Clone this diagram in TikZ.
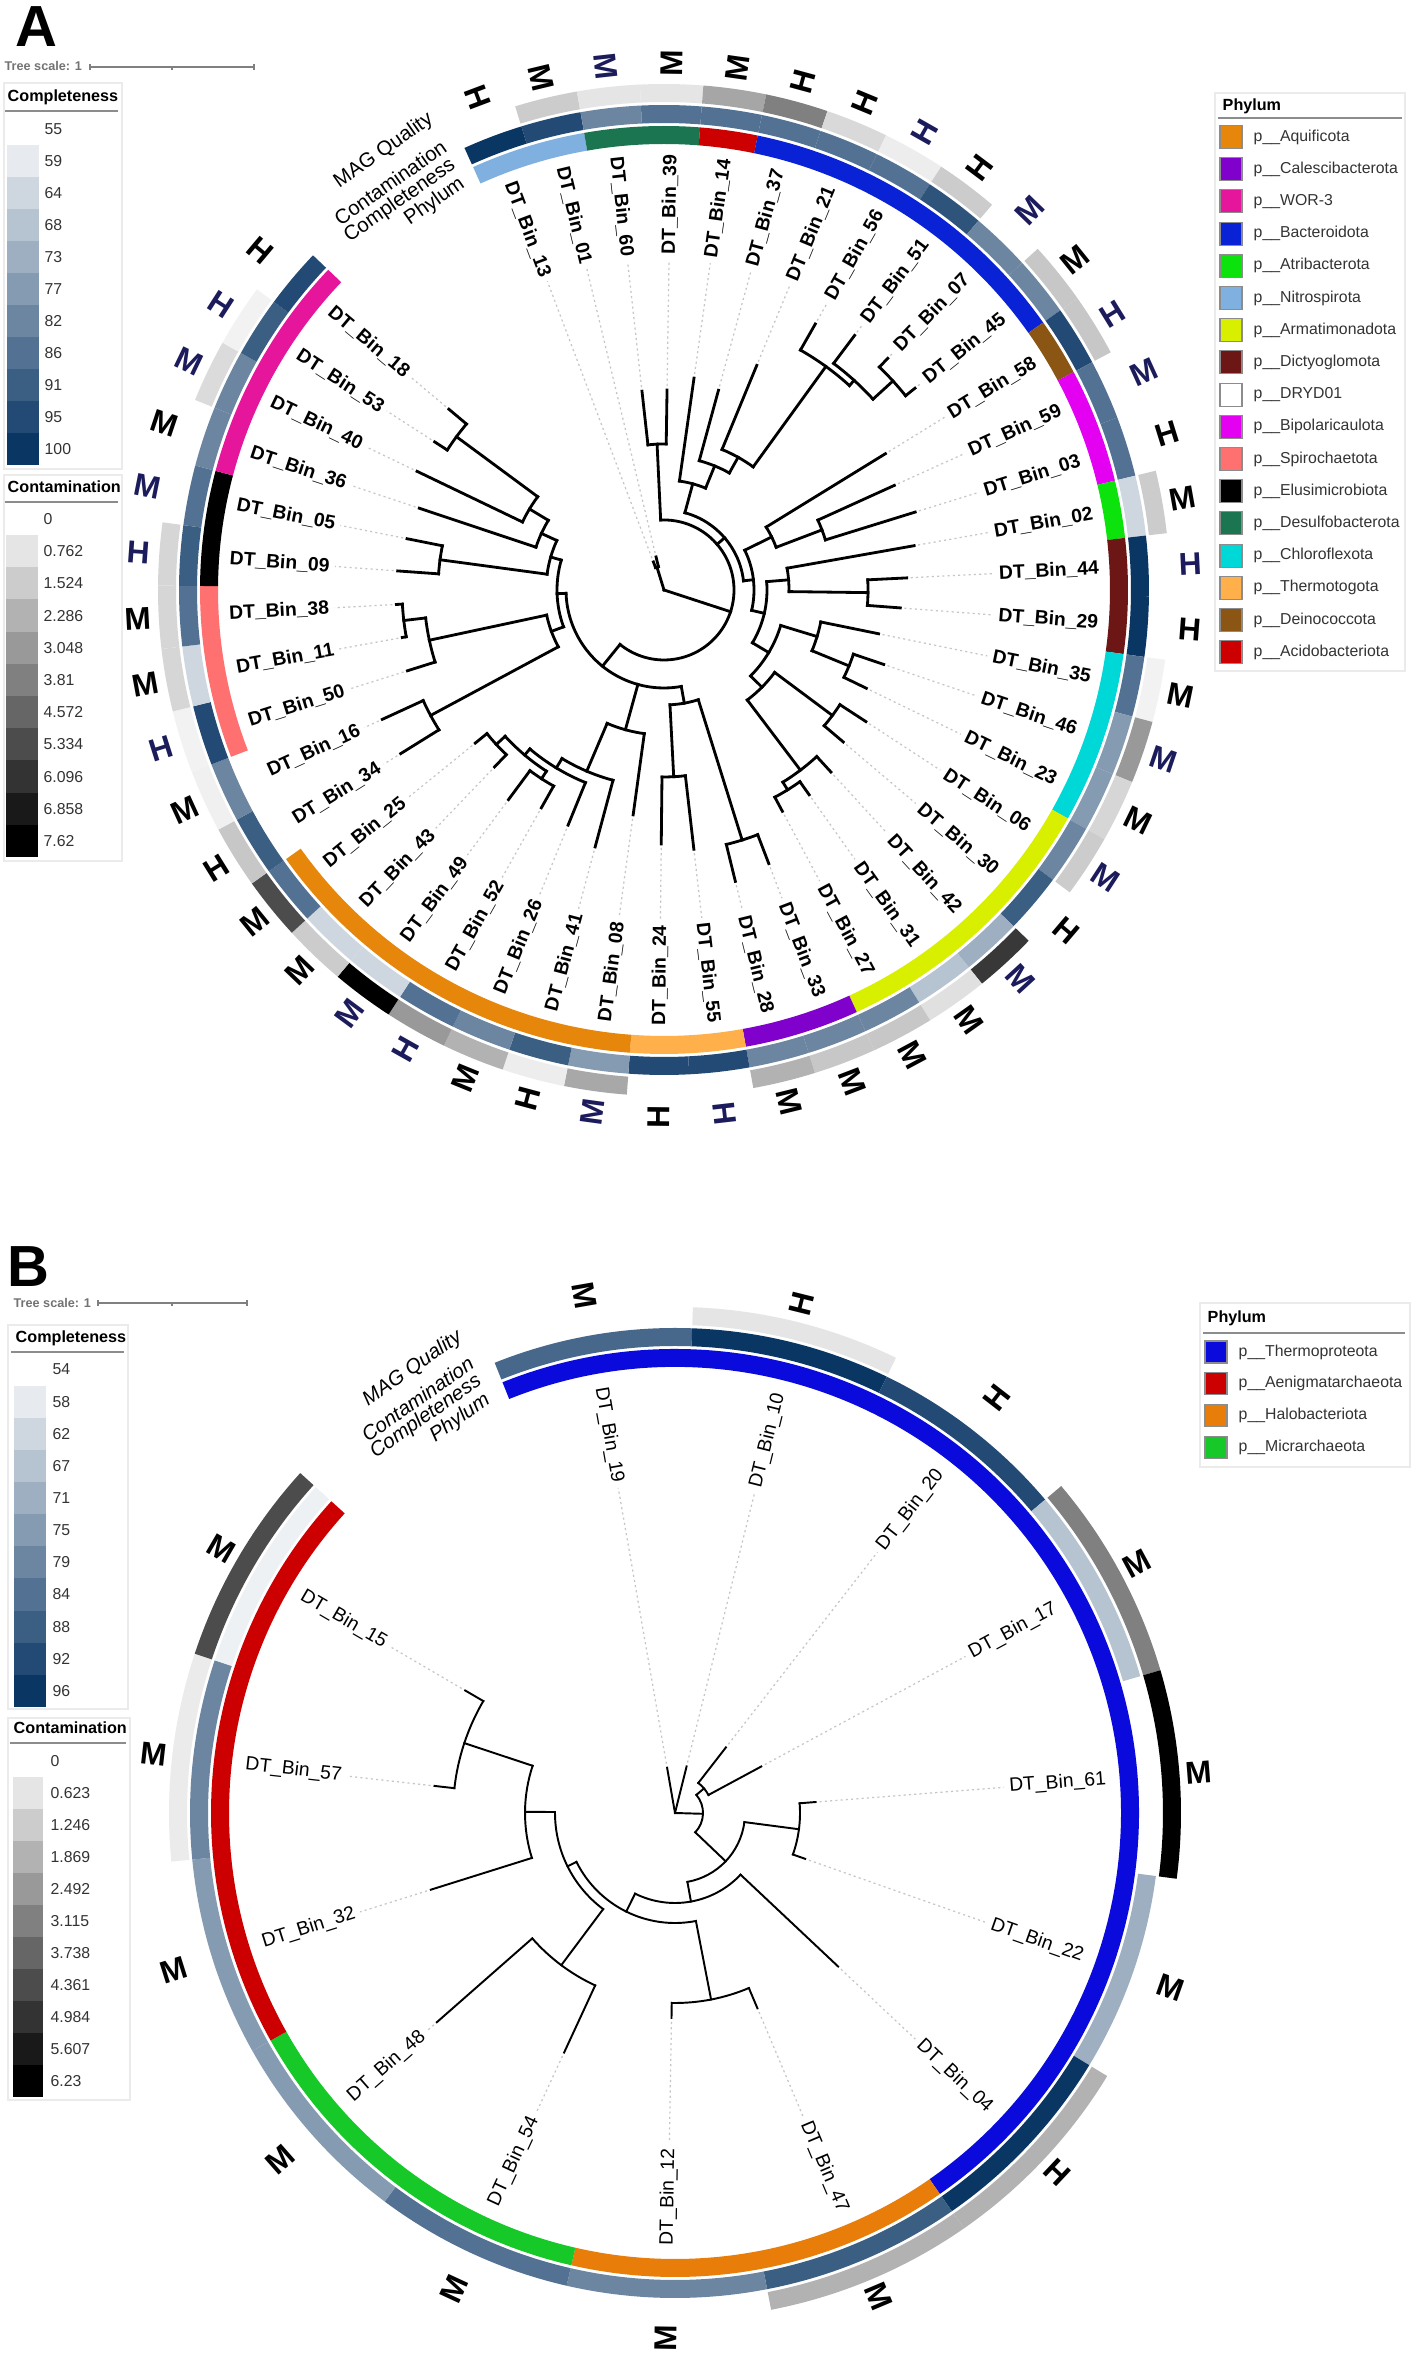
\documentclass[tikz,border=0pt]{standalone}
\usepackage{fontspec}
\setmainfont{Liberation Sans}
\usetikzlibrary{calc}

% ring and legend colours
\definecolor{cplnavy}{RGB}{10,54,100}
\definecolor{qnavy}{RGB}{28,28,92}
\definecolor{legtext}{RGB}{51,51,51}
\definecolor{aquif}{RGB}{230,134,10}
\definecolor{calesci}{RGB}{128,0,204}
\definecolor{wor}{RGB}{229,22,155}
\definecolor{bactero}{RGB}{10,34,214}
\definecolor{atrib}{RGB}{12,226,12}
\definecolor{nitro}{RGB}{128,176,224}
\definecolor{armat}{RGB}{216,240,0}
\definecolor{dictyo}{RGB}{108,22,22}
\definecolor{bipolar}{RGB}{228,0,240}
\definecolor{spiro}{RGB}{255,112,112}
\definecolor{elusi}{RGB}{0,0,0}
\definecolor{desulfo}{RGB}{26,117,80}
\definecolor{chloro}{RGB}{0,216,216}
\definecolor{thermot}{RGB}{255,176,74}
\definecolor{deino}{RGB}{139,86,20}
\definecolor{acido}{RGB}{204,0,0}
\definecolor{thermop}{RGB}{10,10,220}
\definecolor{aenig}{RGB}{204,0,0}
\definecolor{halo}{RGB}{232,125,10}
\definecolor{micr}{RGB}{22,200,40}

% leaf angle = \aA - \aS * index  (set per panel)
\newcommand\ringrun[5]{%
  \pgfmathsetmacro\rgA{\aA-\aS*(#1)+\aS/2}%
  \pgfmathsetmacro\rgB{\aA-\aS*(#2)-\aS/2}%
  \fill[#5] (\rgA:#3) arc[start angle=\rgA, end angle=\rgB, radius=#3]
    -- (\rgB:#4) arc[start angle=\rgB, end angle=\rgA, radius=#4] -- cycle;}
\newcommand\cladearc[3]{%
  \pgfmathsetmacro\rgA{\aA-\aS*(#2)}%
  \pgfmathsetmacro\rgB{\aA-\aS*(#3)}%
  \draw[branch] (\rgA:#1) arc[start angle=\rgA, end angle=\rgB, radius=#1];}
\newcommand\radial[3]{%
  \pgfmathsetmacro\rgA{\aA-\aS*(#1)}%
  \draw[branch] (\rgA:#2) -- (\rgA:#3);}

\begin{document}
\begin{tikzpicture}[x=0.1mm, y=0.1mm,
    branch/.style={line width=0.8pt, line cap=rect},
    leafdot/.style={gray!45, line width=0.35pt, dash pattern=on 0.6pt off 0.9pt},
    leaflab/.style={font=\fontsize{5.5}{6}\selectfont\bfseries, inner sep=0.5pt},
    leaflabB/.style={font=\fontsize{5.5}{6}\selectfont, inner sep=0.5pt},
    qual/.style={font=\fontsize{9}{9}\selectfont\bfseries, inner sep=0pt},
    hdr/.style={font=\fontsize{5.8}{6}\selectfont, inner sep=0.5pt, anchor=east, rotate=35},
    hdrB/.style={hdr, font=\fontsize{5.8}{6}\selectfont\itshape},
    legtitle/.style={font=\fontsize{4.6}{5}\selectfont\bfseries, anchor=west, inner sep=0pt},
    legtxt/.style={font=\fontsize{4.5}{5}\selectfont, text=legtext, anchor=west, inner sep=0pt},
    legbox/.style={draw=black!8, line width=0.4pt},
    legrule/.style={draw=black!45, line width=0.6pt},
    swatch/.style={draw=black!45, line width=0.3pt},
    scalebar/.style={draw=black!50, line width=0.45pt},
    scaletxt/.style={font=\fontsize{3.6}{4}\selectfont\bfseries, text=black!55, anchor=west, inner sep=0pt},
    panel/.style={font=\fontsize{16.5}{17}\selectfont\bfseries, inner sep=0pt}]

\fill[white] (0,0) rectangle (1417,2356);
\useasboundingbox (0,0) rectangle (1417,2356);

%%%%%%%%%%%%%%%%%%%%%%%% panel A
\node[panel] (panA) at (36,2329) {A};
\node[scaletxt] (scA) at (4,2290) {Tree scale: 1};
\draw[scalebar] (90,2289) -- (254,2289);
\draw[scalebar] (90,2286) -- (90,2292) (254,2286) -- (254,2292) (172,2289) -- (172,2286);

% completeness legend
\draw[legbox] (4,1887) rectangle (122,2273);
\node[legtitle] (cplA) at (7,2259) {Completeness};
\draw[legrule] (5,2245) -- (118,2245);
\foreach \k/\v in {0/55,1/59,2/64,3/68,4/73,5/77,6/82,7/86,8/91,9/95,10/100}{
  \pgfmathsetmacro\yy{2227-32*\k}
  \ifnum\k>0 \fill[cplnavy!\k0!white] (7,\yy-16) rectangle (39,\yy+16);\fi
  \node[legtxt] (cplA\k) at (44,\yy) {\v};
}
% contamination legend
\draw[legbox] (4,1495) rectangle (122,1881);
\node[legtitle] (conA) at (7,1869) {Contamination};
\draw[legrule] (5,1854) -- (118,1854);
\foreach \k/\v in {0/0,1/0.762,2/1.524,3/2.286,4/3.048,5/3.81,6/4.572,7/5.334,8/6.096,9/6.858,10/7.62}{
  \pgfmathsetmacro\yy{1837-32.2*\k}
  \ifnum\k>0 \fill[black!\k0] (6,\yy-16.1) rectangle (38,\yy+16.1);\fi
  \node[legtxt] (conA\k) at (43,\yy) {\v};
}
% phylum legend
\draw[legbox] (1215,1685) rectangle (1405,2263);
\node[legtitle] (phyA) at (1222,2250) {Phylum};
\draw[legrule] (1218,2238) -- (1402,2238);
\foreach \k/\pc/\pn in {0/aquif/Aquificota, 1/calesci/Calescibacterota, 2/wor/WOR-3,
    3/bactero/Bacteroidota, 4/atrib/Atribacterota, 5/nitro/Nitrospirota,
    6/armat/Armatimonadota, 7/dictyo/Dictyoglomota, 8/white/DRYD01,
    9/bipolar/Bipolaricaulota, 10/spiro/Spirochaetota, 11/elusi/Elusimicrobiota,
    12/desulfo/Desulfobacterota, 13/chloro/Chloroflexota, 14/thermot/Thermotogota,
    15/deino/Deinococcota, 16/acido/Acidobacteriota}{
  \pgfmathsetmacro\yy{2219-32.2*\k}
  \filldraw[swatch, fill=\pc] (1220,\yy-11.5) rectangle (1242,\yy+11.5);
  \node[legtxt] (phyA\k) at (1253,\yy) {p\_\_\pn};
}

\begin{scope}[shift={(664,1766)}]
\def\aA{110.7}\def\aS{7.19}
% rings: phylum, completeness, contamination
\foreach \ia/\ib/\pc in {0/1/nitro, 2/3/desulfo, 4/4/acido, 5/10/bactero, 11/11/deino,
    12/13/bipolar, 14/14/atrib, 15/16/dictyo, 17/19/chloro, 20/24/armat, 25/26/calesci,
    27/28/thermot, 29/35/aquif, 38/40/spiro, 41/42/elusi, 43/46/wor}{
  \ringrun{\ia}{\ib}{446}{464}{\pc}}
\foreach \i/\c in {0/100,1/90,2/60,3/70,4/70,5/70,6/70,7/70,8/85,9/60,10/60,11/90,12/70,
    13/70,14/20,15/100,16/100,17/70,18/50,19/50,20/60,21/80,22/40,23/30,24/60,25/60,26/60,
    27/90,28/90,29/50,30/80,31/60,32/70,33/20,34/20,35/70,36/80,37/60,38/90,39/20,40/70,
    41/80,42/70,43/60,44/60,45/80,46/90}{
  \ringrun{\i}{\i}{467}{485}{cplnavy!\c!white}}
\foreach \i/\c in {1/20,2/10,3/10,4/35,5/50,6/15,7/7,8/20,10/22,11/22,14/20,17/5,18/40,
    19/16,20/20,22/78,23/12,24/22,25/22,26/30,29/34,30/7,31/30,32/40,33/100,34/20,35/70,
    36/22,37/6,38/5,39/16,40/16,41/16,44/14,45/5}{
  \ringrun{\i}{\i}{488}{506}{black!\c}}

% ring headers
\node[hdr] (hqA) at (116:527) {MAG Quality};
\node[hdr] (hcA) at (116:497) {Contamination};
\node[hdr] (hpA) at (116:476) {Completeness};
\node[hdr] (hfA) at (116:455) {Phylum};

% tree: clade arcs (radius / first child / last child)
\foreach \rr/\ia/\ib in {24/0/1, 70/2.5/33.328125, 146/2/3, 80/4.984375/14.484375,
    110/4/5.96875, 134/5/6.9375, 152/6/7.875, 276/7/8.75, 283/8/9.5, 310/9/10,
    90/11.75/17.21875, 120/11/12.5, 169/12/13, 103/14.75/19.6875, 125/14/15.5,
    204/15/16, 122/17.75/21.625, 160/17/18.5, 200/18/19, 138/20.5/22.75, 210/20/21,
    226/22/23.5, 235/23/24, 98/26.5/40.15625, 115/25.5/27.5, 262/25/26, 187/27/28,
    145/29/31.125, 197/30/32.25, 208/31/33.5, 216/32.5/34.5, 225/32/33, 228/34/35,
    107/37.625/42.6875, 120/36.5/38.75, 265/36/37, 240/38/39.5, 262/39/40,
    118/41.5/43.875, 226/41/42, 135/43/44.75, 157/44/45.5, 258/45/46}{
  \cladearc{\rr}{\ia}{\ib}}
% tree: inner stems (position / from / to)
\foreach \ix/\rlo/\rhi in {0.5/0/24, 17.914/0/70, 2.5/70/146, 9.734375/70/80,
    33.328125/70/98, 4.984375/80/110, 14.484375/80/90, 5.96875/110/134, 6.9375/134/152,
    7.875/152/276, 8.75/276/283, 9.5/283/310, 11.75/90/120, 17.21875/90/103,
    12.5/120/169, 14.75/103/125, 19.6875/103/122, 15.5/125/204, 17.75/122/160,
    21.625/122/138, 18.5/160/200, 20.5/138/210, 22.75/138/226, 23.5/226/235,
    26.5/98/115, 30.0625/98/145, 40.15625/98/107, 25.5/115/262, 27.5/115/187,
    31.125/145/197, 32.25/197/208, 33.5/208/216, 32.5/216/225, 34.5/216/228,
    37.625/107/120, 42.6875/107/118, 36.5/120/265, 38.75/120/240, 39.5/240/262,
    41.5/118/226, 43.875/118/135, 44.75/135/157, 45.5/157/258}{
  \radial{\ix}{\rlo}{\rhi}}
% tree: leaves (index / parent radius / tip radius)
\foreach \i/\rpar/\rtip in {0/24/30, 1/24/34, 2/146/200, 3/146/200, 4/110/214, 5/134/207,
    6/152/243, 7/276/306, 8/283/318, 9/310/322, 10/310/322, 11/120/260, 12/169/253,
    13/169/263, 14/125/254, 15/204/243, 16/204/237, 17/160/219, 18/200/232, 19/200/225,
    20/210/241, 21/210/235, 22/226/247, 23/235/251, 24/235/251, 25/262/293, 26/262/300,
    27/187/261, 28/187/254, 29/145/227, 30/197/266, 31/208/254, 32/225/250, 33/225/261,
    34/228/245, 35/228/243, 36/265/310, 37/265/310, 38/240/269, 39/262/266, 40/262/268,
    41/226/267, 42/226/262, 43/135/258, 44/157/274, 45/258/273, 46/258/281}{
  \radial{\i}{\rpar}{\rtip}
  \pgfmathsetmacro\thA{\aA-\aS*\i}
  \pgfmathsetmacro\rdot{\rtip+4}
  \draw[leafdot] (\thA:\rdot) -- (\thA:330);
}
% leaf labels
\foreach \i/\lab in {0/13,1/01,2/60,3/39,4/14,5/37,6/21,7/56,8/51,9/07,10/45,11/58,12/59,
    13/03,14/02,15/44,16/29,17/35,18/46,19/23,20/06,21/30,22/42,23/31,24/27,25/33,26/28,
    27/55,28/24,29/08,30/41,31/26,32/52,33/49,34/43,35/25,36/34,37/16,38/50,39/11,40/38,
    41/09,42/05,43/36,44/40,45/53,46/18}{
  \pgfmathsetmacro\thA{\aA-\aS*\i}
  \pgfmathtruncatemacro\lh{(\thA>90)||(\thA<(-90))}
  \ifnum\lh=1
    \node[leaflab, anchor=east, rotate=\thA+180] (labA\i) at (\thA:333) {DT\_Bin\_\lab};
  \else
    \node[leaflab, anchor=west, rotate=\thA] (labA\i) at (\thA:333) {DT\_Bin\_\lab};
  \fi
}
% MAG quality letters
\foreach \i/\q/\qc in {0/H/black,1/M/black,2/M/qnavy,3/M/black,4/M/black,5/H/black,
    6/H/black,7/H/qnavy,8/H/black,9/M/qnavy,10/M/black,11/H/qnavy,12/M/qnavy,13/H/black,
    14/M/black,15/H/qnavy,16/H/black,17/M/black,18/M/qnavy,19/M/black,20/M/qnavy,
    21/H/black,22/M/qnavy,23/M/black,24/M/black,25/M/black,26/M/black,27/H/qnavy,
    28/H/black,29/M/qnavy,30/H/black,31/M/black,32/H/qnavy,33/M/qnavy,34/M/black,
    35/M/black,36/H/black,37/M/black,38/H/qnavy,39/M/black,40/M/black,41/H/qnavy,
    42/M/qnavy,43/M/black,44/M/qnavy,45/H/qnavy,46/H/black}{
  \pgfmathsetmacro\thA{\aA-\aS*\i}
  \pgfmathtruncatemacro\lh{(\thA>90)||(\thA<(-90))}
  \pgfmathsetmacro\qrot{\lh==1 ? \thA+180 : \thA}
  \node[qual, text=\qc, rotate=\qrot] (qA\i) at (\thA:527) {\q};
}
\end{scope}

%%%%%%%%%%%%%%%%%%%%%%%% panel B
\node[panel] (panB) at (28,1089) {B};
\node[scaletxt] (scB) at (13,1053) {Tree scale: 1};
\draw[scalebar] (98,1053) -- (247,1053);
\draw[scalebar] (98,1050) -- (98,1056) (247,1050) -- (247,1056) (172,1053) -- (172,1050);

% completeness legend
\draw[legbox] (8,647) rectangle (128,1031);
\node[legtitle] (cplB) at (15,1018) {Completeness};
\draw[legrule] (11,1004) -- (124,1004);
\foreach \k/\v in {0/54,1/58,2/62,3/67,4/71,5/75,6/79,7/84,8/88,9/92,10/96}{
  \pgfmathsetmacro\yy{986.5-32.15*\k}
  \ifnum\k>0 \fill[cplnavy!\k0!white] (14,\yy-16.1) rectangle (46,\yy+16.1);\fi
  \node[legtxt] (cplB\k) at (52,\yy) {\v};
}
% contamination legend
\draw[legbox] (8,256) rectangle (130,638);
\node[legtitle] (conB) at (13,628) {Contamination};
\draw[legrule] (10,613) -- (126,613);
\foreach \k/\v in {0/0,1/0.623,2/1.246,3/1.869,4/2.492,5/3.115,6/3.738,7/4.361,8/4.984,9/5.607,10/6.23}{
  \pgfmathsetmacro\yy{595-32*\k}
  \ifnum\k>0 \fill[black!\k0] (13,\yy-16) rectangle (43,\yy+16);\fi
  \node[legtxt] (conB\k) at (50,\yy) {\v};
}
% phylum legend
\draw[legbox] (1200,889) rectangle (1410,1053);
\node[legtitle] (phyB) at (1207,1038) {Phylum};
\draw[legrule] (1203,1023) -- (1405,1023);
\foreach \k/\pc/\pn in {0/thermop/Thermoproteota, 1/aenig/Aenigmatarchaeota,
    2/halo/Halobacteriota, 3/micr/Micrarchaeota}{
  \pgfmathsetmacro\yy{1004-31.7*\k}
  \filldraw[swatch, fill=\pc] (1205,\yy-11) rectangle (1227,\yy+11);
  \node[legtxt] (phyB\k) at (1238,\yy) {p\_\_\pn};
}

\begin{scope}[shift={(675,543)}, branch/.style={line width=0.55pt, line cap=rect}]
\def\aA{99.9}\def\aS{23.86}
\foreach \ia/\ib/\pc in {0/6/thermop, 7/8/halo, 9/10/micr, 11/13/aenig}{
  \ringrun{\ia}{\ib}{446}{464}{\pc}}
\foreach \i/\c in {0/75,1/100,2/90,3/30,5/40,6/100,7/80,8/60,9/70,10/50,11/50,12/60,13/7}{
  \ringrun{\i}{\i}{467}{485}{cplnavy!\c!white}}
\foreach \i/\c in {1/10,3/50,4/100,6/30,7/30,12/8,13/70}{
  \ringrun{\i}{\i}{488}{506}{black!\c}}

\node[hdrB] (hqB) at (114:524) {MAG Quality};
\node[hdrB] (hcB) at (114:496) {Contamination};
\node[hdrB] (hpB) at (114:476) {Completeness};
\node[hdrB] (hfB) at (114:455) {Phylum};

\foreach \rr/\ia/\ib in {28/2.5/6.015625, 38/2/3, 70/4.5/7.53125, 125/4/5,
    90/6/9.0625, 110/7.5/10.625, 190/7/8, 120/9.5/11.75, 190/9/10, 150/11/12.5,
    222/12/13}{
  \cladearc{\rr}{\ia}{\ib}}
\foreach \ix/\rlo/\rhi in {4.2578125/0/28, 2.5/28/38, 6.015625/28/70, 4.5/70/125,
    7.53125/70/90, 9.0625/90/110, 7.5/110/190, 10.625/110/120, 9.5/120/190,
    11.75/120/150, 12.5/150/222}{
  \radial{\ix}{\rlo}{\rhi}}
\foreach \i/\rpar/\rtip in {0/0/46, 1/0/48, 2/38/83, 3/38/98, 4/125/141, 5/125/138,
    6/90/224, 7/190/212, 8/190/205, 9/190/264, 10/190/317, 11/150/256, 12/222/242,
    13/222/243}{
  \radial{\i}{\rpar}{\rtip}
  \pgfmathsetmacro\thA{\aA-\aS*\i}
  \pgfmathsetmacro\rdot{\rtip+4}
  \draw[leafdot] (\thA:\rdot) -- (\thA:330);
}
\foreach \i/\lab in {0/19,1/10,2/20,3/17,4/61,5/22,6/04,7/47,8/12,9/54,10/48,11/32,
    12/57,13/15}{
  \pgfmathsetmacro\thA{\aA-\aS*\i}
  \pgfmathtruncatemacro\lh{(\thA>90)||(\thA<(-90))}
  \ifnum\lh=1
    \node[leaflabB, anchor=east, rotate=\thA+180] (labB\i) at (\thA:333) {DT\_Bin\_\lab};
  \else
    \node[leaflabB, anchor=west, rotate=\thA] (labB\i) at (\thA:333) {DT\_Bin\_\lab};
  \fi
}
\foreach \i/\q in {0/M,1/H,2/H,3/M,4/M,5/M,6/H,7/M,8/M,9/M,10/M,11/M,12/M,13/M}{
  \pgfmathsetmacro\thA{\aA-\aS*\i}
  \pgfmathtruncatemacro\lh{(\thA>90)||(\thA<(-90))}
  \pgfmathsetmacro\qrot{\lh==1 ? \thA+180 : \thA}
  \node[qual, rotate=\qrot] (qB\i) at (\thA:525) {\q};
}
\end{scope}
\end{tikzpicture}
\end{document}
